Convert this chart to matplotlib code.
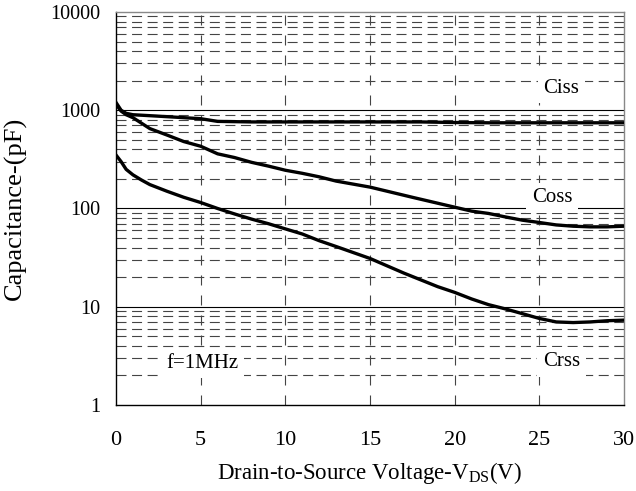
import matplotlib
matplotlib.use("Agg")
import matplotlib.pyplot as plt
import numpy as np

# values (V, pF)
ciss_v = [0, 0.3, 0.6, 1, 2, 3, 4, 5, 6, 8, 10, 14, 18, 20, 22, 25, 28, 30]
ciss_c = [1200, 1000, 930, 900, 880, 860, 840, 820, 770, 760, 760, 760, 760, 750, 745, 745, 745, 745]

coss_v = [0, 0.3, 0.6, 1, 2, 3, 4, 5, 6, 7, 8, 9, 10, 11, 12, 13, 15, 17.5,
          19.3, 21, 22, 23, 24, 25, 26, 27, 28, 29, 30]
coss_c = [1150, 980, 900, 840, 650, 560, 480, 430, 360, 330, 295, 270, 245, 228, 210, 190, 165, 130,
          110, 94, 89, 82, 76, 72, 68, 66, 65, 65, 66]

crss_v = [0, 0.3, 0.6, 1, 1.5, 2, 3, 4, 5, 6, 7, 8, 9, 10, 11, 12, 13, 15, 17, 19,
          20, 21, 22, 23, 24, 25, 26, 27, 28, 29, 30]
crss_c = [350, 300, 250, 220, 195, 175, 150, 130, 115, 100, 88, 78, 70, 62, 55, 47, 41, 31, 22, 16,
          14, 12, 10.5, 9.5, 8.5, 7.6, 7.0, 6.9, 7.0, 7.2, 7.3]

labels = ["Ciss", "Coss", "Crss", "f=1MHz"]
label_x = [26.3, 25.75, 26.3, 5.1]
label_y = [1680, 128, 2.74, 2.67]

plt.rcParams['font.family'] = ['Liberation Serif', 'DejaVu Serif']

fig = plt.figure(figsize=(6.36, 4.91), dpi=100)
ax = fig.add_axes([0.1824, 0.1752, 0.7987, 0.8004])

ax.set_yscale('log')
ax.set_xlim(0, 30)
ax.set_ylim(1, 10000)

# grid: dashed for minor decades and x, solid for decades
for dec in [1, 10, 100, 1000]:
    for m in range(2, 10):
        ax.axhline(dec * m, color='#444444', lw=0.8, ls=(0, (9, 5)), zorder=1)
for dec in [10, 100, 1000]:
    ax.axhline(dec, color='black', lw=0.8, zorder=1)
for xv in [5, 10, 15, 20, 25]:
    ax.axvline(xv, color='#444444', lw=0.8, ls=(0, (9, 9)), zorder=1)

ax.plot(ciss_v, ciss_c, color='black', lw=2.4, zorder=3)
ax.plot(coss_v, coss_c, color='black', lw=2.4, zorder=3)
ax.plot(crss_v, crss_c, color='black', lw=2.4, zorder=3)

for t, xx, yy in zip(labels, label_x, label_y):
    ax.text(xx, yy, t, ha='center', va='center', fontsize=15, zorder=2,
            bbox=dict(facecolor='white', edgecolor='none', pad=4))

ax.set_xticks([0, 5, 10, 15, 20, 25, 30])
ax.set_yticks([1, 10, 100, 1000, 10000])
ax.set_yticklabels(["1", "10", "100", "1000", "10000"])
ax.yaxis.set_minor_locator(matplotlib.ticker.NullLocator())
ax.tick_params(axis='x', length=0, labelsize=16, pad=19)
ax.tick_params(axis='y', length=0, labelsize=14.5, pad=11)

for s in ax.spines.values():
    s.set_linewidth(1.0)
ax.spines['right'].set_color('#888888')
ax.spines['top'].set_color('#888888')

ax.set_xlabel("Drain-to-Source Voltage-V$_{\\mathregular{DS}}$(V)", fontsize=16.5)
ax.set_ylabel("Capacitance-(pF)", fontsize=19)
ax.xaxis.set_label_coords(0.5, -0.173)
ax.xaxis.label.set_va('center')
ax.yaxis.set_label_coords(-0.199, 0.5)
ax.yaxis.label.set_va('center')

fig.savefig("out.png", dpi=100)
